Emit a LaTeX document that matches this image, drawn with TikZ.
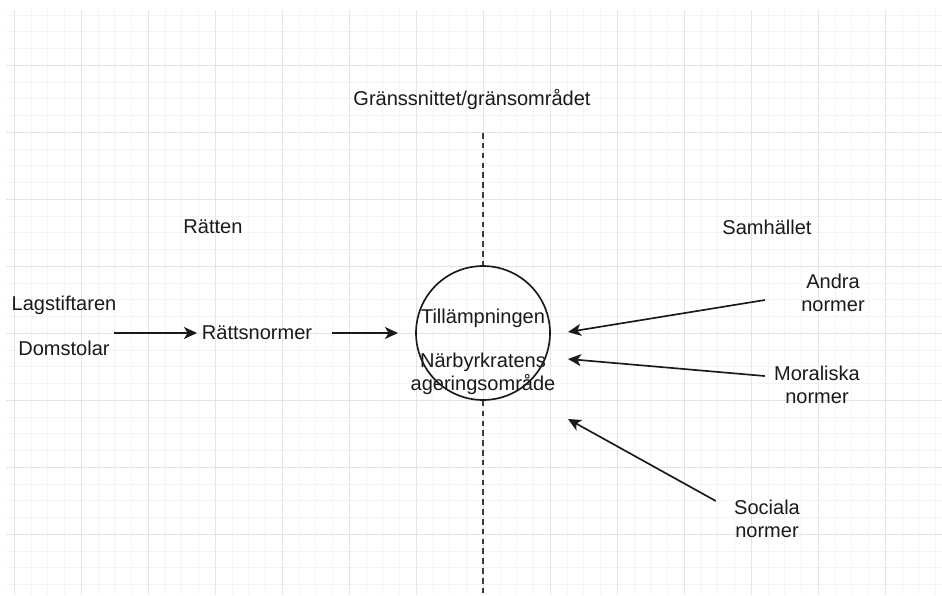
\documentclass[tikz,border=0pt]{standalone}
\usepackage{fontspec}
\setmainfont{Liberation Sans}
\usepackage{tikz}
\usetikzlibrary{positioning, arrows.meta}
\definecolor{gridMinor}{HTML}{F4F4F4}
\definecolor{gridMajor}{HTML}{E4E4E4}
\definecolor{lineDark}{HTML}{1A1A1A}

\begin{document}
\begin{tikzpicture}[x=0.02cm, y=-0.02cm,
  font=\fontsize{11.4}{13.4}\selectfont,
  label/.style={inner sep=0pt, align=center, text=lineDark},
  pil/.style={draw=lineDark, line width=0.95pt, -{Stealth[length=0.26cm, width=0.24cm, inset=0.07cm]}},
  gminor/.style={draw=gridMinor, line width=0.5pt},
  gmajor/.style={draw=gridMajor, line width=0.5pt}]
  \useasboundingbox (0,0) rectangle (942,595);
  \fill[white] (0,0) rectangle (942,595);
  % grid
  \foreach \k in {0,...,55} \draw[gminor] ({14.3+16.75*\k},10) -- ({14.3+16.75*\k},595);
  \foreach \k in {0,...,34} \draw[gminor] (6,{15+16.75*\k}) -- (942,{15+16.75*\k});
  \foreach \k in {0,...,13} \draw[gmajor] ({14.3+67*\k},10) -- ({14.3+67*\k},595);
  \foreach \k in {0,...,7} \draw[gmajor] (6,{65.3+67*\k}) -- (942,{65.3+67*\k});

  \node[label] (grans) at (472,100) {Gränssnittet/gränsområdet};
  \node[label] (ratten) at (213,227) {Rätten};
  \node[label] (samhallet) at (767,227) {Samhället};
  \node[label] (lagstiftaren) at (64,305) {Lagstiftaren};
  \node[label] (domstolar) at (64,348) {Domstolar};
  \node[label] (rattsnormer) at (257,333) {Rättsnormer};
  \node[draw=lineDark, line width=0.95pt, circle, minimum size=2.68cm, inner sep=0pt] (omrade) at (483,333) {};
  \node[label] (tillampning) at (483,318) {Tillämpningen};
  \node[label] (narbyr) at (483,374) {Närbyrkratens\\ageringsområde};
  \node[label] (andra) at (833,293) {Andra\\normer};
  \node[label] (moraliska) at (817,385) {Moraliska\\normer};
  \node[label] (sociala) at (767,519) {Sociala\\normer};

  \draw[draw=lineDark!85, line width=0.95pt, dash pattern=on 3.2pt off 2.4pt] (483,133) -- (omrade.north);
  \draw[draw=lineDark!85, line width=0.95pt, dash pattern=on 3.2pt off 2.4pt] (omrade.south) -- (483,595);

  \coordinate (ut1) at (114,333);
  \coordinate (in0) at (197,333);
  \coordinate (ut2) at (332,333);
  \coordinate (in1) at (398,333);
  \coordinate (inA) at (568,332);
  \coordinate (inM) at (568,359);
  \coordinate (inS) at (568,419);
  \draw[pil] (ut1) -- (in0);
  \draw[pil] (ut2) -- (in1);
  \draw[pil] ([xshift=-0.72cm, yshift=-0.14cm]andra.west) -- (inA);
  \draw[pil] ([xshift=-0.18cm, yshift=0.18cm]moraliska.west) -- (inM);
  \draw[pil] ([xshift=-0.36cm, yshift=0.36cm]sociala.west) -- (inS);
\end{tikzpicture}
\end{document}
